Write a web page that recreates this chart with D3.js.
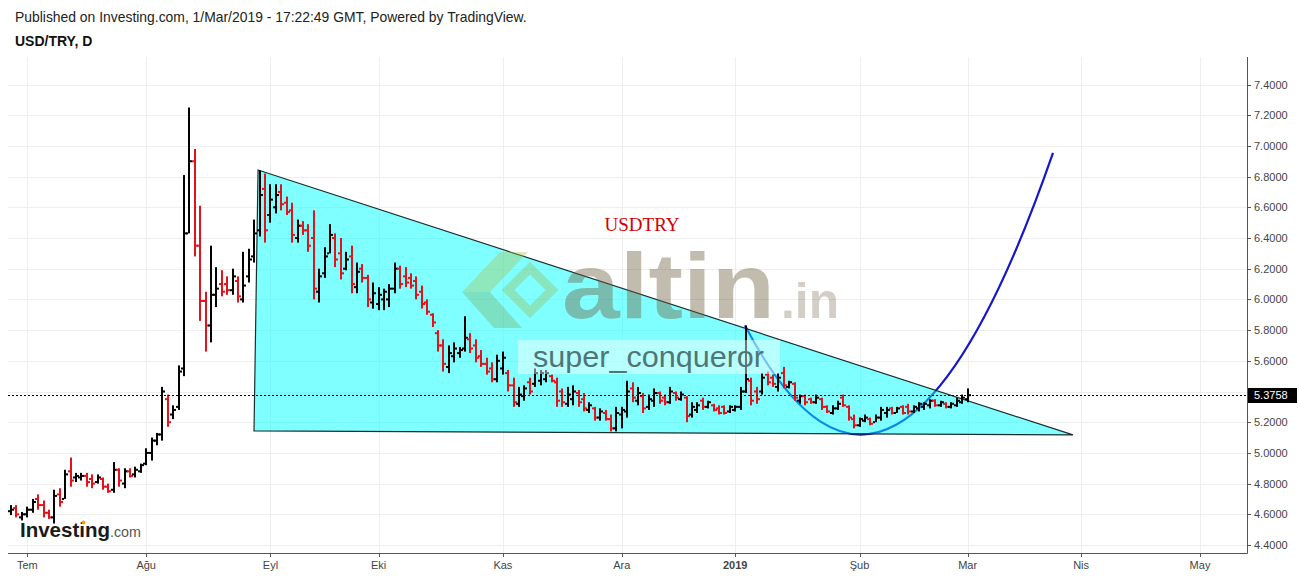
<!DOCTYPE html>
<html><head><meta charset="utf-8">
<script src="https://cdn.jsdelivr.net/npm/d3@7"></script>
<style>body{margin:0;background:#fff}svg{display:block}</style>
</head><body>
<svg id="c" width="1299" height="577"></svg>
<script>
// ---------- DATA ----------
const firstBar = -3; // bar index of the first bar (27 Jun 2018); index 0 = 2 Jul 2018
const opens = [
4.62,4.64,4.58,
4.60,4.63,4.70,4.66,4.61,4.58,4.73,4.70,4.88,4.84,
4.84,4.85,4.83,4.81,4.83,4.78,4.76,4.89,4.80,4.88,
4.86,4.88,4.93,5.00,5.08,5.12,5.35,5.25,5.30,5.55,
6.43,6.90,6.35,5.99,5.83,6.03,6.10,6.10,6.06,6.12,
6.00,6.15,6.28,6.45,6.72,6.55,6.60,6.70,6.63,6.58,
6.40,6.48,6.45,6.40,6.05,6.17,6.30,6.40,6.30,6.20,
6.28,6.08,6.20,6.14,5.98,5.97,6.00,6.00,6.07,6.20,
6.15,6.14,6.12,6.05,5.98,5.90,5.78,5.70,5.56,5.63,
5.65,5.68,5.74,5.70,5.63,5.58,5.55,5.48,5.55,5.52,
5.44,5.32,5.37,5.46,5.45,5.47,5.48,5.50,5.46,5.40,
5.32,5.35,5.39,5.35,5.28,5.29,5.23,5.26,5.22,5.16,
5.25,5.27,5.42,5.34,5.37,5.30,5.34,5.39,5.36,5.33,
5.39,5.35,5.36,5.25,5.28,5.34,5.30,5.31,5.29,5.30,
5.27,5.28,5.30,5.40,5.47,5.40,5.40,5.51,5.49,5.43,
5.52,5.43,5.45,5.34,5.37,5.35,5.33,5.35,5.30,5.26,
5.29,5.36,5.30,5.22,5.18,5.21,5.22,5.20,5.23,5.26,
5.29,5.26,5.30,5.30,5.27,5.29,5.30,5.31,5.34,5.31,
5.32,5.30,5.31,5.33,5.35];
const highs = [
4.66,4.66,4.615,
4.65,4.70,4.73,4.69,4.63,4.76,4.77,4.89,4.97,4.87,
4.87,4.87,4.86,4.86,4.84,4.80,4.94,4.90,4.90,4.90,
4.91,4.93,5.03,5.10,5.13,5.43,5.38,5.31,5.57,6.81,
7.25,6.98,6.61,6.05,6.35,6.21,6.19,6.15,6.20,6.15,
6.31,6.33,6.52,6.84,6.82,6.75,6.75,6.75,6.67,6.63,
6.52,6.51,6.49,6.58,6.20,6.34,6.49,6.43,6.40,6.31,
6.35,6.24,6.23,6.16,6.11,6.08,6.07,6.10,6.24,6.22,
6.21,6.17,6.15,6.09,6.00,5.91,5.80,5.74,5.70,5.72,
5.69,5.89,5.78,5.74,5.67,5.62,5.59,5.64,5.66,5.54,
5.49,5.43,5.44,5.49,5.55,5.54,5.54,5.51,5.49,5.42,
5.43,5.44,5.41,5.39,5.33,5.30,5.29,5.28,5.25,5.30,
5.30,5.47,5.46,5.43,5.39,5.38,5.42,5.40,5.38,5.43,
5.40,5.40,5.37,5.33,5.33,5.36,5.34,5.32,5.31,5.31,
5.31,5.31,5.43,5.83,5.49,5.43,5.52,5.53,5.51,5.52,
5.56,5.47,5.46,5.38,5.38,5.36,5.38,5.36,5.31,5.31,
5.34,5.38,5.31,5.25,5.23,5.25,5.23,5.25,5.30,5.30,
5.30,5.30,5.31,5.32,5.31,5.33,5.33,5.35,5.35,5.34,
5.33,5.33,5.36,5.38,5.42];
const lows = [
4.595,4.58,4.56,
4.58,4.61,4.63,4.58,4.57,4.54,4.65,4.70,4.78,4.81,
4.82,4.78,4.77,4.80,4.76,4.74,4.74,4.78,4.77,4.84,
4.84,4.87,4.92,4.95,5.05,5.08,5.17,5.22,5.28,5.50,
6.43,6.28,5.86,5.66,5.72,5.95,6.02,6.03,6.03,5.98,
5.98,6.11,6.24,6.41,6.37,6.50,6.56,6.58,6.55,6.37,
6.37,6.42,6.31,6.00,5.98,6.14,6.30,6.21,6.13,6.19,
6.04,6.04,6.11,5.95,5.94,5.93,5.93,5.95,6.04,6.07,
6.08,6.07,6.00,5.94,5.90,5.82,5.66,5.53,5.52,5.59,
5.62,5.66,5.65,5.59,5.56,5.51,5.46,5.46,5.51,5.40,
5.30,5.30,5.34,5.38,5.43,5.44,5.46,5.46,5.30,5.30,
5.30,5.31,5.30,5.27,5.26,5.21,5.21,5.21,5.14,5.14,
5.16,5.23,5.33,5.31,5.26,5.28,5.30,5.32,5.31,5.32,
5.34,5.34,5.20,5.23,5.26,5.28,5.29,5.27,5.25,5.25,
5.26,5.27,5.28,5.39,5.31,5.32,5.38,5.44,5.43,5.40,
5.42,5.42,5.34,5.32,5.31,5.32,5.32,5.28,5.26,5.25,
5.28,5.30,5.21,5.16,5.17,5.20,5.18,5.20,5.21,5.23,
5.25,5.26,5.25,5.25,5.26,5.27,5.28,5.29,5.30,5.30,
5.29,5.29,5.30,5.32,5.33];
const closes = [
4.63,4.60,4.60,
4.63,4.68,4.66,4.61,4.58,4.72,4.68,4.86,4.82,4.85,
4.85,4.81,4.80,4.84,4.78,4.75,4.89,4.82,4.88,4.85,
4.89,4.92,5.00,5.08,5.12,5.40,5.20,5.28,5.53,6.43,
6.90,6.35,5.99,5.83,6.03,6.07,6.05,6.06,6.15,6.02,
6.09,6.26,6.43,6.68,6.45,6.65,6.68,6.62,6.57,6.42,
6.48,6.45,6.35,6.07,6.15,6.28,6.42,6.26,6.17,6.26,
6.10,6.18,6.14,6.00,6.04,6.03,6.05,6.07,6.20,6.10,
6.11,6.09,6.03,5.97,5.92,5.85,5.70,5.58,5.65,5.68,
5.67,5.75,5.68,5.62,5.58,5.53,5.48,5.60,5.62,5.44,
5.33,5.38,5.42,5.40,5.52,5.52,5.52,5.47,5.34,5.33,
5.38,5.40,5.33,5.29,5.31,5.23,5.27,5.22,5.16,5.26,
5.28,5.40,5.36,5.39,5.29,5.35,5.39,5.34,5.33,5.40,
5.36,5.38,5.24,5.30,5.31,5.30,5.33,5.28,5.26,5.26,
5.30,5.30,5.40,5.48,5.34,5.35,5.49,5.46,5.45,5.49,
5.44,5.46,5.36,5.37,5.33,5.33,5.36,5.30,5.27,5.29,
5.32,5.31,5.23,5.18,5.22,5.23,5.19,5.23,5.28,5.28,
5.26,5.29,5.26,5.27,5.30,5.32,5.32,5.34,5.31,5.33,
5.30,5.32,5.34,5.36,5.3758];
const tickLabels = ["Tem","Ağu","Eyl","Eki","Kas","Ara","2019","Şub","Mar","Nis","May"];
const tickBars = [0,22,45,65,88,110,131,154,174,195,217];
const priceTicks = [4.4,4.6,4.8,5.0,5.2,5.4,5.6,5.8,6.0,6.2,6.4,6.6,6.8,7.0,7.2,7.4];
const hiddenPriceTicks = [5.4]; // covered by the last-price label
const lastPrice = 5.3758;
// drawings: [bar index, price]
const trianglePts = [[42.7,6.843],[193.5,5.117],[41.95,5.143]];
const curvePts = [[132.8,5.83],[160.4,3.977],[189.8,6.954]]; // quadratic curve: start, control, end

// ---------- LAYOUT ----------
const L = 8, R = 1247, T = 57, B = 553;
const svg = d3.select("#c");
const font = "'Liberation Sans', Arial, sans-serif";
const x = d3.scaleLinear().domain([0, 217]).range([27.3, 1200]);
const y = d3.scaleLinear().domain([4.4, 7.4]).range([545, 84.5]);

svg.append("defs").append("clipPath").attr("id","plot")
  .append("rect").attr("x",L).attr("y",T).attr("width",R-L).attr("height",B-T);

// header
svg.append("text").attr("x",15).attr("y",22).attr("font-family",font).attr("font-size",13.9).attr("fill","#222")
  .text("Published on Investing.com, 1/Mar/2019 - 17:22:49 GMT, Powered by TradingView.");
svg.append("text").attr("x",15).attr("y",46).attr("font-family",font).attr("font-size",14).attr("font-weight","bold").attr("fill","#111")
  .text("USD/TRY, D");

const plot = svg.append("g").attr("clip-path","url(#plot)");

// gridlines
plot.selectAll("line.vg").data(tickBars).join("line")
  .attr("x1",d=>Math.round(x(d))+0.5).attr("x2",d=>Math.round(x(d))+0.5).attr("y1",T).attr("y2",B)
  .attr("stroke","#eeeeee").attr("stroke-width",1);
plot.selectAll("line.hg").data(priceTicks).join("line")
  .attr("y1",d=>Math.round(y(d))+0.5).attr("y2",d=>Math.round(y(d))+0.5).attr("x1",L).attr("x2",R)
  .attr("stroke","#eeeeee").attr("stroke-width",1);

// curve (under the triangle)
const cp = d3.path();
cp.moveTo(x(curvePts[0][0]), y(curvePts[0][1]));
cp.quadraticCurveTo(x(curvePts[1][0]), y(curvePts[1][1]), x(curvePts[2][0]), y(curvePts[2][1]));
plot.append("path").attr("d",cp.toString()).attr("fill","none").attr("stroke","#1616cc").attr("stroke-width",2.2);

// triangle
plot.append("path")
  .attr("d", d3.line().x(d=>x(d[0])).y(d=>y(d[1]))(trianglePts) + "Z")
  .attr("fill","rgba(0,255,255,0.5)").attr("stroke","#1b2f2f").attr("stroke-width",1.2);

// watermark logo
const wm = plot.append("g");
wm.append("polygon").attr("points","462,292 500,252 528,252 490,292").attr("fill","rgba(170,195,80,0.38)");
wm.append("polygon").attr("points","462,292 490,292 522,328 494,328").attr("fill","rgba(120,175,95,0.38)");
wm.append("polygon").attr("points","508,290 530,268 552,290 530,312").attr("fill","none").attr("stroke","rgba(150,190,90,0.4)").attr("stroke-width",9);
wm.append("text").attr("x",562).attr("y",318).attr("font-family",font).attr("font-weight","bold")
  .attr("font-size",92).attr("textLength",213).attr("lengthAdjust","spacingAndGlyphs")
  .attr("fill","rgba(110,95,65,0.42)").text("altin");
wm.append("text").attr("x",781).attr("y",318).attr("font-family",font).attr("font-weight","bold")
  .attr("font-size",50).attr("textLength",58).attr("lengthAdjust","spacingAndGlyphs")
  .attr("fill","rgba(110,95,65,0.3)").text(".in");

// bars
const bars = opens.map((o,k)=>({i:k+firstBar,o,h:highs[k],l:lows[k],c:closes[k]}));
const bg = plot.append("g");
bars.forEach(d=>{
  const xi = Math.round(x(d.i));
  const col = d.c >= d.o ? "#000000" : "#e3131b";
  bg.append("rect").attr("x",xi-1).attr("y",y(d.h)).attr("width",2).attr("height",Math.max(1,y(d.l)-y(d.h))).attr("fill",col);
  bg.append("rect").attr("x",xi-3).attr("y",y(d.o)-1).attr("width",2).attr("height",2).attr("fill",col);
  bg.append("rect").attr("x",xi+1).attr("y",y(d.c)-1).attr("width",2).attr("height",2).attr("fill",col);
});

// last price dotted line
plot.append("line").attr("x1",L).attr("x2",R).attr("y1",Math.round(y(lastPrice))+0.5).attr("y2",Math.round(y(lastPrice))+0.5)
  .attr("stroke","#000").attr("stroke-width",1).attr("stroke-dasharray","2,2");

// texts on chart
plot.append("text").attr("x",642).attr("y",231).attr("text-anchor","middle").attr("font-family","'Liberation Serif', 'Times New Roman', serif")
  .attr("font-size",19).attr("fill","#d40000").text("USDTRY");
plot.append("rect").attr("x",518).attr("y",340).attr("width",262).attr("height",34).attr("fill","rgba(255,255,255,0.45)");
plot.append("text").attr("x",533).attr("y",367).attr("font-family",font).attr("font-size",30)
  .attr("textLength",231).attr("lengthAdjust","spacingAndGlyphs").attr("fill","#4f7676").text("super_conqueror");

// Investing.com logo
const lg = svg.append("g");
lg.append("text").attr("x",20).attr("y",537).attr("font-family",font).attr("font-weight","bold").attr("font-size",21)
  .attr("textLength",90).attr("lengthAdjust","spacingAndGlyphs").attr("fill","#1a1a1a").text("Investing");
lg.append("text").attr("x",110).attr("y",537).attr("font-family",font).attr("font-size",15)
  .attr("textLength",31).attr("lengthAdjust","spacingAndGlyphs").attr("fill","#555").text(".com");
lg.append("circle").attr("cx",83.5).attr("cy",522.5).attr("r",2).attr("fill","#f39c12");

// axes
svg.append("line").attr("x1",L).attr("x2",R+0.5).attr("y1",B+0.5).attr("y2",B+0.5).attr("stroke","#555");
svg.append("line").attr("x1",R+0.5).attr("x2",R+0.5).attr("y1",T).attr("y2",B+0.5).attr("stroke","#555");

const yTicksShown = priceTicks.filter(p=>!hiddenPriceTicks.includes(p));
svg.selectAll("line.yt").data(priceTicks).join("line")
  .attr("x1",R).attr("x2",R+4).attr("y1",d=>Math.round(y(d))+0.5).attr("y2",d=>Math.round(y(d))+0.5).attr("stroke","#555");
svg.selectAll("text.yl").data(yTicksShown).join("text")
  .attr("x",R+7).attr("y",d=>y(d)+4).attr("font-family",font).attr("font-size",11).attr("fill","#444")
  .text(d=>d.toFixed(4));

svg.selectAll("line.xt").data(tickBars).join("line")
  .attr("x1",d=>Math.round(x(d))+0.5).attr("x2",d=>Math.round(x(d))+0.5).attr("y1",B).attr("y2",B+4).attr("stroke","#555");
svg.selectAll("text.xl").data(tickBars).join("text")
  .attr("x",d=>x(d)).attr("y",569).attr("text-anchor","middle").attr("font-family",font).attr("font-size",11)
  .attr("fill","#444").attr("font-weight",(d,k)=>tickLabels[k]==="2019"?"bold":"normal")
  .text((d,k)=>tickLabels[k]);

// last price label
const ly = y(lastPrice);
svg.append("rect").attr("x",R+1).attr("y",Math.round(ly)-7).attr("width",49).attr("height",15).attr("fill","#000");
svg.append("text").attr("x",R+7).attr("y",ly+4).attr("font-family",font).attr("font-size",11).attr("fill","#fff").text(lastPrice.toFixed(4));
</script>
</body></html>
